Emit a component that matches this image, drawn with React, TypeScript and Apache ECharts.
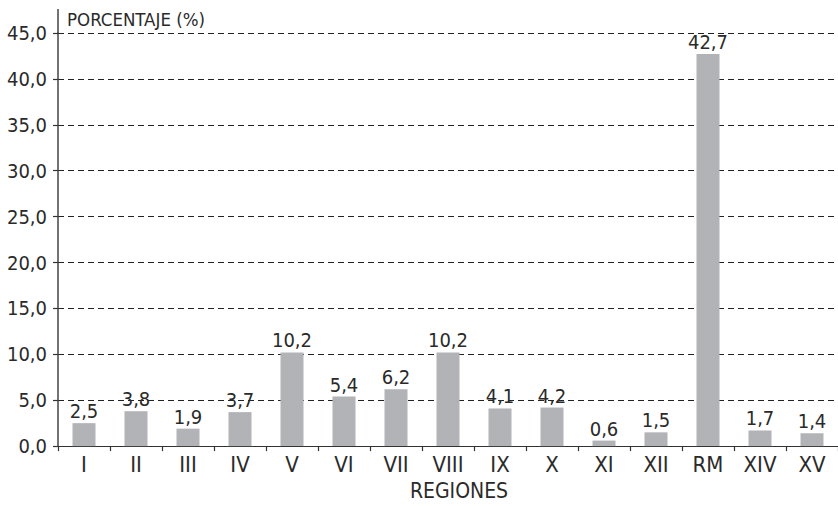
import React, { useEffect, useRef } from "react";
import * as echarts from "echarts";

const categories = ["I", "II", "III", "IV", "V", "VI", "VII", "VIII", "IX", "X", "XI", "XII", "RM", "XIV", "XV"];
const values = [2.5, 3.8, 1.9, 3.7, 10.2, 5.4, 6.2, 10.2, 4.1, 4.2, 0.6, 1.5, 42.7, 1.7, 1.4];
const yAxisTitle = "PORCENTAJE (%)";
const xAxisTitle = "REGIONES";

const FONT = "'Liberation Sans Narrow', 'DejaVu Sans Condensed', 'Roboto', sans-serif";
const fmt = (v: number) => v.toFixed(1).replace(".", ",");

export default function App() {
  const ref = useRef<HTMLDivElement>(null);
  useEffect(() => {
    if (!ref.current) return;
    const chart = echarts.init(ref.current, undefined, { renderer: "svg" });
    chart.setOption({
      animation: false,
      backgroundColor: "#ffffff",
      textStyle: { fontFamily: FONT, color: "#2a2a2a" },
      grid: { left: 58, right: 0, top: 33, bottom: 55, containLabel: false },
      graphic: [
        {
          type: "line",
          shape: { x1: 58, y1: 9, x2: 58, y2: 33 },
          style: { stroke: "#444", lineWidth: 1.5 },
          silent: true,
        },
      ],
      xAxis: {
        type: "category",
        data: categories,
        name: xAxisTitle,
        nameLocation: "middle",
        nameGap: 33,
        nameTextStyle: { fontFamily: FONT, fontSize: 21, color: "#2a2a2a", padding: [0, 0, 0, 22], verticalAlign: "top" },
        axisLine: { lineStyle: { color: "#333", width: 1.2 } },
        axisTick: { show: true, length: 5, lineStyle: { color: "#333", width: 1.2 } },
        axisLabel: { fontFamily: FONT, fontSize: 22, color: "#2a2a2a", margin: 7 },
      },
      yAxis: {
        type: "value",
        min: 0,
        max: 45,
        interval: 5,
        name: yAxisTitle,
        nameLocation: "end",
        nameGap: 14,
        nameTextStyle: { fontFamily: FONT, fontSize: 18.5, color: "#2a2a2a", align: "left", verticalAlign: "middle", padding: [0, 0, 0, 9] },
        axisLine: { show: true, lineStyle: { color: "#444", width: 1.5 } },
        axisTick: { show: true, length: 5, lineStyle: { color: "#333", width: 1.2 } },
        axisLabel: { fontFamily: FONT, fontSize: 20, color: "#2a2a2a", margin: 11, formatter: (v: number) => fmt(v) },
        splitLine: { show: true, lineStyle: { color: "#222", width: 1, type: [6, 4] } },
      },
      series: [
        {
          type: "bar",
          data: values,
          barWidth: 23,
          itemStyle: { color: "#b2b3b7" },
          label: {
            show: true,
            position: "top",
            distance: 2,
            fontFamily: FONT,
            fontSize: 20,
            color: "#2a2a2a",
            formatter: (p: any) => fmt(p.value),
          },
        },
      ],
    });
    return () => chart.dispose();
  }, []);
  return <div ref={ref} style={{ position: "fixed", left: 0, top: 0, width: 838, height: 506 }} />;
}
